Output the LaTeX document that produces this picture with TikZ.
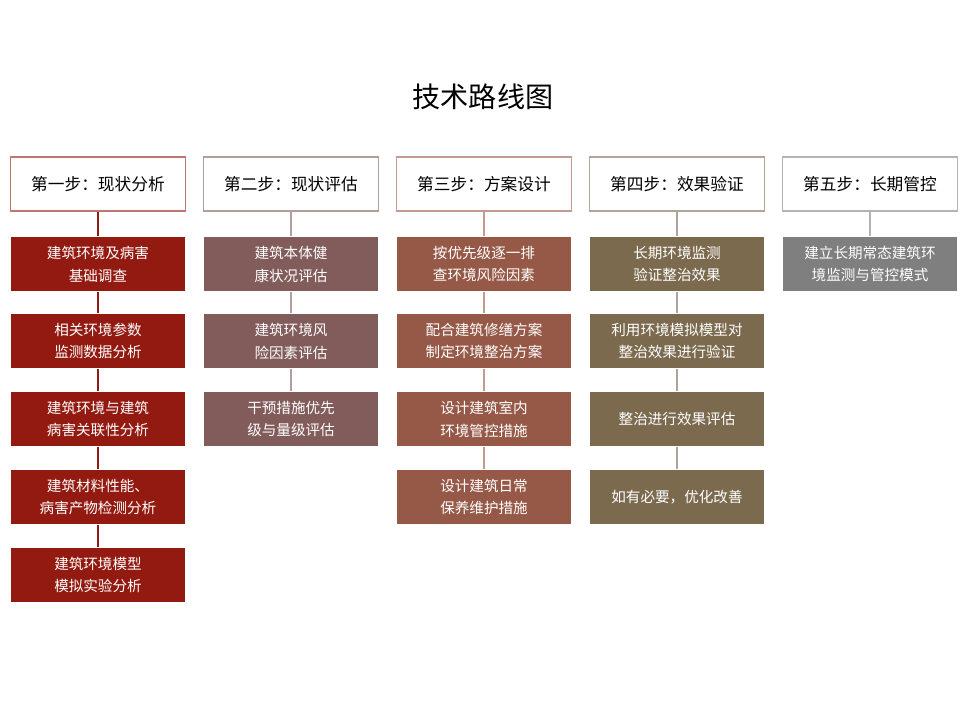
\documentclass[tikz,border=0pt]{standalone}
\usepackage{fontspec}
\setmainfont{Noto Sans CJK SC}
\usepackage{xcolor}
\definecolor{stepA}{HTML}{931A10}
\definecolor{stepB}{HTML}{825B5B}
\definecolor{stepC}{HTML}{975947}
\definecolor{stepD}{HTML}{7B6A4E}
\definecolor{stepE}{HTML}{7F7F7F}
\begin{document}
\begin{tikzpicture}[x=0.02cm,y=-0.02cm]
    % Define box styles
    \tikzstyle{head}=[draw, fill=white, minimum width=3.5cm, minimum height=1.08cm, font=\fontsize{9.5pt}{11pt}\selectfont, line width=0.6pt]
    \tikzstyle{item}=[draw=white, text=white, minimum width=3.5cm, minimum height=1.1cm, align=center, font=\fontsize{8.3pt}{13pt}\selectfont, line width=0.4pt]
    \tikzstyle{link}=[line width=0.6pt]

    \useasboundingbox (0,0) rectangle (970,708);

    % Title
    \node[font=\fontsize{16pt}{18pt}\selectfont] (title) at (483,97) {技术路线图};

    % Headers
    \node[head, draw=stepA!60] (h1) at (98,184) {第一步：现状分析};
    \node[head, draw=stepB!60] (h2) at (291,184) {第二步：现状评估};
    \node[head, draw=stepC!60] (h3) at (484,184) {第三步：方案设计};
    \node[head, draw=stepD!60] (h4) at (677,184) {第四步：效果验证};
    \node[head, draw=stepE!60] (h5) at (870,184) {第五步：长期管控};

    % Step 1
    \node[item, fill=stepA] (a1) at (98,264) {建筑环境及病害\\基础调查};
    \node[item, fill=stepA] (a2) at (98,341) {相关环境参数\\监测数据分析};
    \node[item, fill=stepA] (a3) at (98,419) {建筑环境与建筑\\病害关联性分析};
    \node[item, fill=stepA] (a4) at (98,497) {建筑材料性能、\\病害产物检测分析};
    \node[item, fill=stepA] (a5) at (98,575) {建筑环境模型\\模拟实验分析};

    % Step 2
    \node[item, fill=stepB] (b1) at (291,264) {建筑本体健\\康状况评估};
    \node[item, fill=stepB] (b2) at (291,341) {建筑环境风\\险因素评估};
    \node[item, fill=stepB] (b3) at (291,419) {干预措施优先\\级与量级评估};

    % Step 3
    \node[item, fill=stepC] (c1) at (484,264) {按优先级逐一排\\查环境风险因素};
    \node[item, fill=stepC] (c2) at (484,341) {配合建筑修缮方案\\制定环境整治方案};
    \node[item, fill=stepC] (c3) at (484,419) {设计建筑室内\\环境管控措施};
    \node[item, fill=stepC] (c4) at (484,497) {设计建筑日常\\保养维护措施};

    % Step 4
    \node[item, fill=stepD] (d1) at (677,264) {长期环境监测\\验证整治效果};
    \node[item, fill=stepD] (d2) at (677,341) {利用环境模拟模型对\\整治效果进行验证};
    \node[item, fill=stepD] (d3) at (677,419) {整治进行效果评估};
    \node[item, fill=stepD] (d4) at (677,497) {如有必要，优化改善};

    % Step 5
    \node[item, fill=stepE] (e1) at (870,264) {建立长期常态建筑环\\境监测与管控模式};

    % Connect boxes
    \draw[link, stepA] (h1) -- (a1) -- (a2) -- (a3) -- (a4) -- (a5);
    \draw[link, stepB!60] (h2) -- (b1) -- (b2) -- (b3);
    \draw[link, stepC!60] (h3) -- (c1) -- (c2) -- (c3) -- (c4);
    \draw[link, stepD!60] (h4) -- (d1) -- (d2) -- (d3) -- (d4);
    \draw[link, stepE!60] (h5) -- (e1);
\end{tikzpicture}
\end{document}
